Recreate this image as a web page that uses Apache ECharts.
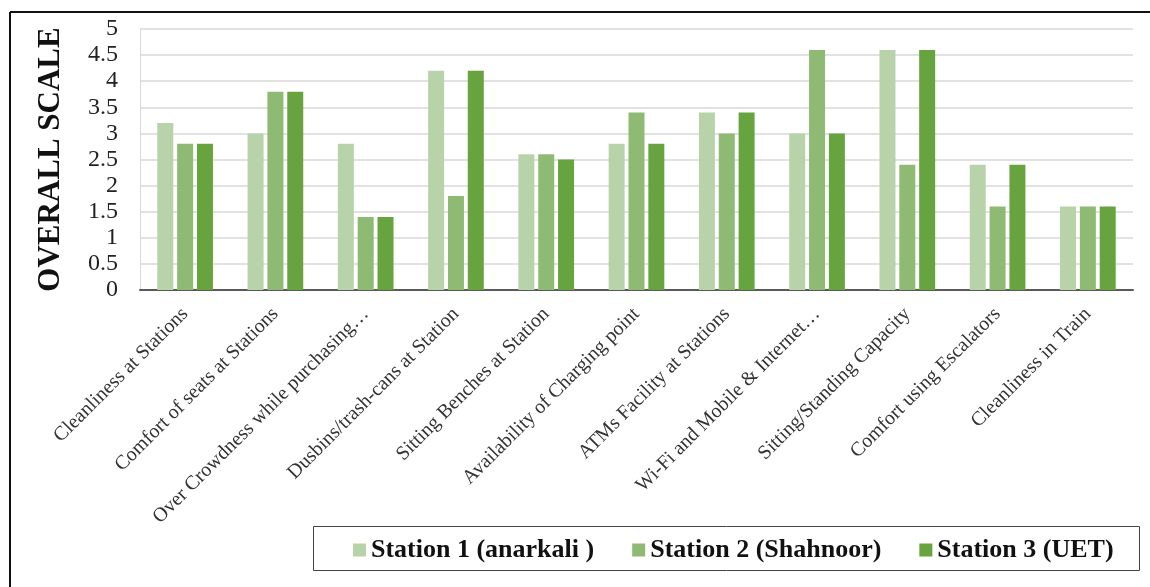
<!DOCTYPE html>
<html>
<head>
<meta charset="utf-8">
<script src="https://cdn.jsdelivr.net/npm/echarts@6/dist/echarts.min.js"></script>
<style>
  html, body { margin: 0; padding: 0; background: #fff; }
  #chart { width: 1150px; height: 587px; }
</style>
</head>
<body>
<div id="chart"></div>
<script>
// Service attributes rated at each station
const categories = [
  'Cleanliness at Stations',
  'Comfort of seats at Stations',
  'Over Crowdness while purchasing\u2026',
  'Dusbins/trash-cans at Station',
  'Sitting Benches at Station',
  'Availability of Charging point',
  'ATMs Facility at Stations',
  'Wi-Fi and Mobile & Internet\u2026',
  'Sitting/Standing Capacity',
  'Comfort using Escalators',
  'Cleanliness in Train'
];

const seriesNames = ['Station 1 (anarkali )', 'Station 2 (Shahnoor)', 'Station 3 (UET)'];

const station1 = [3.2, 3.0, 2.8, 4.2, 2.6, 2.8, 3.4, 3.0, 4.6, 2.4, 1.6];
const station2 = [2.8, 3.8, 1.4, 1.8, 2.6, 3.4, 3.0, 4.6, 2.4, 1.6, 1.6];
const station3 = [2.8, 3.8, 1.4, 4.2, 2.5, 2.8, 3.4, 3.0, 4.6, 2.4, 1.6];

const yTicks = ['0', '0.5', '1', '1.5', '2', '2.5', '3', '3.5', '4', '4.5', '5'];

const colors = ['#b8d2aa', '#8fba74', '#67a43f'];
const serif = '"Liberation Serif", "DejaVu Serif", serif';

const chart = echarts.init(document.getElementById('chart'), null, { renderer: 'canvas' });

const barStyle = (i) => ({
  name: seriesNames[i],
  type: 'bar',
  data: [station1, station2, station3][i],
  barWidth: 16,
  barGap: '24%',
  itemStyle: { color: colors[i] },
  emphasis: { disabled: true }
});

chart.setOption({
  animation: false,
  backgroundColor: '#ffffff',
  textStyle: { fontFamily: serif },
  grid: { left: 140, right: 17, top: 29, bottom: 297, containLabel: false },
  graphic: [
    // outer frame (top and left edges)
    { type: 'line', shape: { x1: 10, y1: 12, x2: 1150, y2: 12 }, style: { stroke: '#111', lineWidth: 2 } },
    { type: 'line', shape: { x1: 10, y1: 12, x2: 10, y2: 587 }, style: { stroke: '#111', lineWidth: 2 } },
    // legend box
    { type: 'rect', shape: { x: 313.5, y: 526.5, width: 826, height: 44 }, style: { fill: 'none', stroke: '#444', lineWidth: 1 } }
  ],
  legend: {
    data: seriesNames,
    left: 353,
    top: 537,
    padding: 0,
    itemWidth: 13,
    itemHeight: 13,
    itemGap: 38,
    icon: 'rect',
    textStyle: { fontFamily: serif, fontSize: 26, fontWeight: 'bold', color: '#111' }
  },
  xAxis: {
    type: 'category',
    data: categories,
    axisTick: { show: false },
    axisLine: { lineStyle: { color: '#5a5a5a', width: 2 } },
    axisLabel: {
      interval: 0,
      rotate: 45,
      margin: 21,
      fontFamily: serif,
      fontSize: 20,
      color: '#333'
    }
  },
  yAxis: {
    type: 'value',
    min: 0,
    max: 5,
    interval: 0.5,
    name: 'OVERALL SCALE',
    nameLocation: 'middle',
    nameGap: 74,
    nameRotate: 90,
    nameTextStyle: { fontFamily: serif, fontSize: 31, fontWeight: 'bold', color: '#111' },
    axisLine: { show: true, lineStyle: { color: '#d9d9d9', width: 1 } },
    axisTick: { show: false },
    splitLine: { lineStyle: { color: '#d9d9d9', width: 1.5 } },
    axisLabel: {
      fontFamily: serif,
      fontSize: 24,
      color: '#222',
      margin: 22,
      formatter: (v) => yTicks[Math.round(v * 2)]
    }
  },
  series: [barStyle(0), barStyle(1), barStyle(2)]
});
</script>
</body>
</html>
